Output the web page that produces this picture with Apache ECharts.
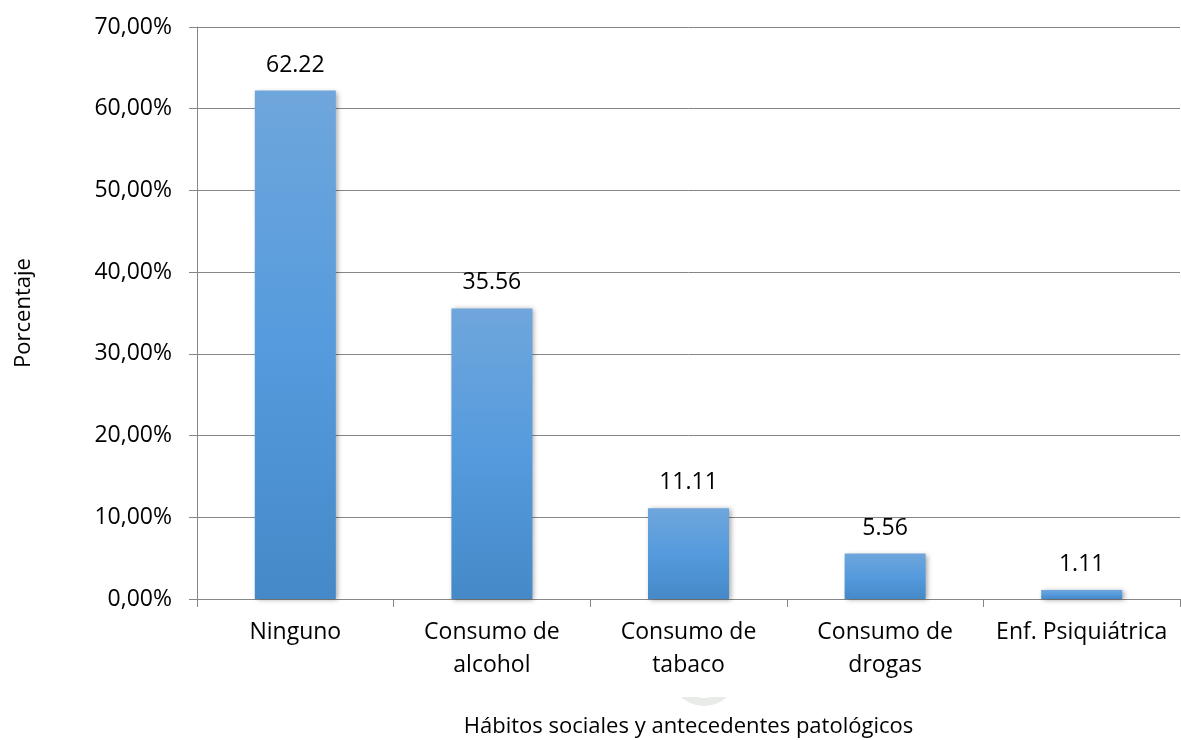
<!DOCTYPE html>
<html>
<head>
<meta charset="utf-8">
<script src="https://cdn.jsdelivr.net/npm/echarts@6/dist/echarts.min.js"></script>
<style>
  html, body { margin: 0; padding: 0; background: #ffffff; }
  #chart { width: 1181px; height: 740px; }
</style>
</head>
<body>
<div id="chart"></div>
<script>
// Habits and pathological history, share of patients (%)
const categories = ['Ninguno', 'Consumo de\nalcohol', 'Consumo de\ntabaco', 'Consumo de\ndrogas', 'Enf. Psiquiátrica'];
const values = [62.22, 35.56, 11.11, 5.56, 1.11];
const yTicks = [0, 10, 20, 30, 40, 50, 60, 70];

const FONT = 'Open Sans';

const chart = echarts.init(document.getElementById('chart'));
chart.setOption({
  animation: false,
  backgroundColor: '#ffffff',
  grid: { left: 197, right: 1, top: 27, bottom: 141, outerBoundsMode: 'none', containLabel: false },
  graphic: [{
    // faint grey seal fragment under the category labels
    type: 'sector',
    shape: { cx: 704, cy: 672, r: 34, r0: 26, startAngle: Math.PI * 0.2, endAngle: Math.PI * 0.8 },
    style: { fill: '#e8ebe8' },
    z: -1
  }, {
    type: 'rect',
    shape: { x: 660, y: 680, width: 90, height: 17 },
    style: { fill: '#ffffff' },
    z: -1
  }],
  xAxis: {
    type: 'category',
    data: categories,
    name: 'Hábitos sociales y antecedentes patológicos',
    nameLocation: 'middle',
    nameGap: 117,
    nameTextStyle: { fontFamily: FONT, fontSize: 22, color: '#000' },
    axisLine: { lineStyle: { color: '#868686', width: 1 } },
    axisTick: { show: true, length: 8, lineStyle: { color: '#868686' } },
    axisLabel: {
      fontFamily: FONT, fontSize: 23, color: '#000',
      margin: 17, lineHeight: 33, interval: 0
    }
  },
  yAxis: {
    type: 'value',
    min: 0, max: 70, interval: 10,
    name: 'Porcentaje',
    nameLocation: 'middle',
    nameGap: 162,
    nameRotate: 90,
    nameTextStyle: { fontFamily: FONT, fontSize: 22, color: '#000' },
    axisLine: { show: true, lineStyle: { color: '#868686', width: 1 } },
    axisTick: { show: true, length: 8, lineStyle: { color: '#868686' } },
    splitLine: { show: true, lineStyle: { color: '#868686', width: 1 } },
    axisLabel: {
      fontFamily: FONT, fontSize: 23, color: '#000', margin: 25,
      formatter: v => yTicks.includes(v) ? v.toFixed(2).replace('.', ',') + '%' : ''
    }
  },
  series: [{
    type: 'bar',
    data: values,
    barWidth: 81,
    itemStyle: {
      color: new echarts.graphic.LinearGradient(0, 0, 0, 1, [
        { offset: 0, color: '#6fa6dc' },
        { offset: 0.5, color: '#559bdd' },
        { offset: 1, color: '#4589c8' }
      ]),
      shadowColor: 'rgba(0,0,0,0.35)',
      shadowBlur: 5,
      shadowOffsetX: 2,
      shadowOffsetY: 1
    },
    label: {
      show: true,
      position: 'top',
      distance: 14,
      fontFamily: FONT, fontSize: 23, color: '#000',
      formatter: p => p.value.toFixed(2)
    }
  }]
});
</script>
</body>
</html>
